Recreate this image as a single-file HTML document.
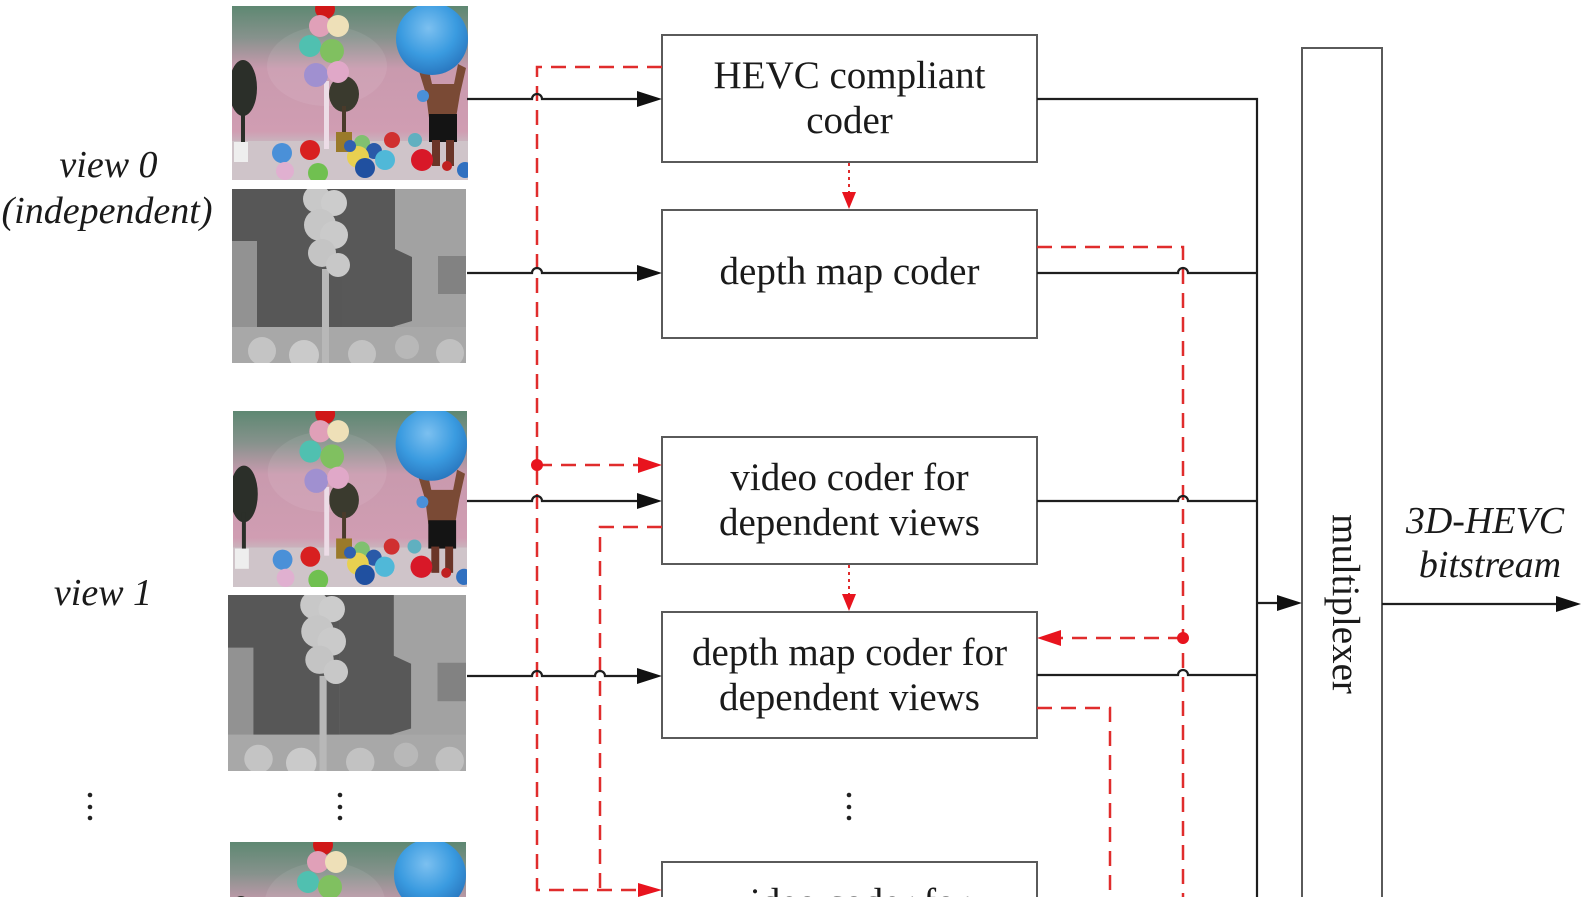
<!DOCTYPE html>
<html><head><meta charset="utf-8"><style>
html,body{margin:0;padding:0;background:#fff;width:1581px;height:897px;overflow:hidden;}
svg{display:block;}
text{font-family:"Liberation Serif","Times New Roman",serif;fill:#1a1a1a;}
</style></head><body>
<svg width="1581" height="897" viewBox="0 0 1581 897" xmlns="http://www.w3.org/2000/svg" overflow="hidden">
<defs>
<linearGradient id="bgg" x1="0" y1="0" x2="0" y2="1">
<stop offset="0" stop-color="#5e8872"/>
<stop offset="0.18" stop-color="#86928c"/>
<stop offset="0.36" stop-color="#c99aae"/>
<stop offset="0.72" stop-color="#d09db2"/>
<stop offset="0.78" stop-color="#c9b4bd"/>
<stop offset="1" stop-color="#d8ced3"/>
</linearGradient>
<radialGradient id="ball" cx="0.45" cy="0.35" r="0.65">
<stop offset="0" stop-color="#7cc0f0"/>
<stop offset="0.6" stop-color="#3a9be0"/>
<stop offset="1" stop-color="#2a78c0"/>
</radialGradient>
<symbol id="ph" viewBox="0 0 236 174" preserveAspectRatio="none">
<rect width="236" height="174" fill="url(#bgg)"/>
<rect x="0" y="135" width="236" height="39" fill="#cfc4c9"/>
<ellipse cx="95" cy="60" rx="60" ry="40" fill="#fff" opacity="0.08"/>
<ellipse cx="11" cy="82" rx="14" ry="28" fill="#2b2f29"/>
<rect x="9" y="100" width="4" height="38" fill="#2b2f29"/>
<rect x="2" y="136" width="14" height="20" fill="#eeeeee"/>
<ellipse cx="112" cy="88" rx="15" ry="18" fill="#3a3a2e"/>
<rect x="110" y="100" width="4" height="30" fill="#4a3a2a"/>
<rect x="104" y="126" width="16" height="20" fill="#9a7a2a"/>
<rect x="92" y="75" width="5" height="68" fill="#ecdce6"/>
<circle cx="93" cy="3" r="10" fill="#d01818"/>
<circle cx="88" cy="20" r="11" fill="#e0a0b8"/>
<circle cx="106" cy="20" r="11" fill="#eee0b8"/>
<circle cx="78" cy="40" r="11" fill="#50c0b0"/>
<circle cx="100" cy="45" r="12" fill="#80c060"/>
<circle cx="84" cy="69" r="12" fill="#a090d0"/>
<circle cx="106" cy="66" r="11" fill="#e0a8c8"/>
<path d="M186 62 L196 60 L200 78 L222 78 L226 58 L234 62 L228 88 L224 112 L197 112 L194 88 Z" fill="#7a4a35"/>
<rect x="197" y="108" width="28" height="28" fill="#141414"/>
<rect x="200" y="134" width="8" height="26" fill="#6a3528"/>
<rect x="214" y="134" width="8" height="26" fill="#6a3528"/>
<circle cx="215" cy="160" r="5" fill="#c02020"/>
<circle cx="191" cy="90" r="6" fill="#4a90d8"/>
<circle cx="200" cy="33" r="36" fill="url(#ball)"/>
<circle cx="78" cy="144" r="10" fill="#d82020"/>
<circle cx="50" cy="147" r="10" fill="#4a90d8"/>
<circle cx="53" cy="165" r="9" fill="#e0b0d0"/>
<circle cx="86" cy="167" r="10" fill="#70c050"/>
<circle cx="130" cy="137" r="8" fill="#80c070"/>
<circle cx="142" cy="145" r="8" fill="#2a5aa8"/>
<circle cx="126" cy="151" r="11" fill="#e8d050"/>
<circle cx="133" cy="162" r="10" fill="#2050a0"/>
<circle cx="153" cy="154" r="10" fill="#50b8d8"/>
<circle cx="160" cy="134" r="8" fill="#d03030"/>
<circle cx="183" cy="134" r="7" fill="#60b0c0"/>
<circle cx="190" cy="154" r="11" fill="#d81828"/>
<circle cx="233" cy="164" r="8" fill="#3070c0"/>
<circle cx="118" cy="140" r="6" fill="#3060b0"/>
</symbol>
<symbol id="ph3" viewBox="0 0 236 55" preserveAspectRatio="none">
<use href="#ph" x="0" y="0" width="236" height="174"/>
</symbol>
<symbol id="dp" viewBox="0 0 234 174" preserveAspectRatio="none">
<rect width="234" height="174" fill="#929292"/>
<rect x="163" y="0" width="71" height="140" fill="#a2a2a2"/>
<rect x="206" y="67" width="28" height="38" fill="#828282"/>
<path d="M0 0 H110 V140 H25 V52 H0 Z" fill="#575757"/>
<path d="M110 0 H163 V60 L180 68 V132 L160 138 H110 Z" fill="#585858"/>
<rect x="0" y="138" width="234" height="36" fill="#a8a8a8"/>
<circle cx="30" cy="162" r="14" fill="#c4c4c4"/>
<circle cx="72" cy="166" r="15" fill="#cacaca"/>
<circle cx="130" cy="165" r="14" fill="#c2c2c2"/>
<circle cx="175" cy="158" r="12" fill="#b8b8b8"/>
<circle cx="218" cy="164" r="14" fill="#c0c0c0"/>
<rect x="90" y="80" width="7" height="94" fill="#b8b8b8"/>
<circle cx="85" cy="10" r="14" fill="#c8c8c8"/>
<circle cx="102" cy="14" r="13" fill="#cccccc"/>
<circle cx="88" cy="36" r="16" fill="#c6c6c6"/>
<circle cx="102" cy="46" r="14" fill="#cacaca"/>
<circle cx="90" cy="64" r="14" fill="#c4c4c4"/>
<circle cx="106" cy="76" r="12" fill="#c8c8c8"/>
</symbol>
</defs>
<rect width="1581" height="897" fill="#fff"/>

<use href="#ph" x="232" y="6" width="236" height="174"/>
<use href="#dp" x="232" y="189" width="234" height="174"/>
<use href="#ph" x="233" y="411" width="234" height="176"/>
<use href="#dp" x="228" y="595" width="238" height="176"/>
<use href="#ph3" x="230" y="842" width="236" height="55"/>

<g fill="#fff" stroke="#5a5a5a" stroke-width="2">
<rect x="662" y="35" width="375" height="127"/>
<rect x="662" y="210" width="375" height="128"/>
<rect x="662" y="437" width="375" height="127"/>
<rect x="662" y="612" width="375" height="126"/>
<path d="M662 897 V862 H1037 V897"/>
<path d="M1302 897 V48 H1382 V897"/>
</g>

<g fill="none" stroke="#e02c2c" stroke-width="2.5" stroke-dasharray="15 9">
<path d="M662 67 H537 V890 H640"/>
<path d="M537 465 H640"/>
<path d="M662 527 H600 V890"/>
<path d="M1037 247 H1183 V897"/>
<path d="M1183 638 H1060"/>
<path d="M1037 708 H1110 V897"/>
</g>
<g fill="none" stroke="#e02c2c" stroke-width="2" stroke-dasharray="3 4">
<path d="M849 163 V193"/>
<path d="M849 565 V595"/>
</g>
<g fill="#e8141e">
<polygon points="638,883 662,890 638,897"/>
<polygon points="638,457 662,465 638,473"/>
<polygon points="1061,630 1037,638 1061,646"/>
<polygon points="842,192 856,192 849,209"/>
<polygon points="842,594 856,594 849,611"/>
<circle cx="537" cy="465" r="6"/>
<circle cx="1183" cy="638" r="6"/>
</g>

<g fill="none" stroke="#1e1e1e" stroke-width="2.2">
<path d="M467 99 H532 A5 5 0 0 1 542 99 H640"/>
<path d="M467 273 H532 A5 5 0 0 1 542 273 H640"/>
<path d="M467 501 H532 A5 5 0 0 1 542 501 H640"/>
<path d="M467 676 H532 A5 5 0 0 1 542 676 H595 A5 5 0 0 1 605 676 H640"/>
<path d="M1037 99 H1257 V897"/>
<path d="M1037 273 H1178 A5 5 0 0 1 1188 273 H1257"/>
<path d="M1037 501 H1178 A5 5 0 0 1 1188 501 H1257"/>
<path d="M1037 675 H1178 A5 5 0 0 1 1188 675 H1257"/>
<path d="M1257 603 H1280"/>
<path d="M1382 604 H1560"/>
</g>
<g fill="#111">
<polygon points="637,91 662,99 637,107"/>
<polygon points="637,265 662,273 637,281"/>
<polygon points="637,493 662,501 637,509"/>
<polygon points="637,668 662,676 637,684"/>
<polygon points="1277,595 1302,603 1277,611"/>
<polygon points="1556,596 1581,604 1556,612"/>
</g>

<g font-size="39" text-anchor="middle">
<text x="849.5" y="88">HEVC compliant</text>
<text x="849.5" y="133">coder</text>
<text x="849.5" y="284">depth map coder</text>
<text x="849.5" y="490">video coder for</text>
<text x="849.5" y="535">dependent views</text>
<text x="849.5" y="665">depth map coder for</text>
<text x="849.5" y="710">dependent views</text>
<text x="849.5" y="915">video coder for</text>
<text transform="translate(1333,604) rotate(90)">multiplexer</text>
</g>

<g font-size="38" font-style="italic" text-anchor="middle">
<text x="108.5" y="177">view 0</text>
<text x="107" y="223">(independent)</text>
<text x="103" y="605">view 1</text>
<text x="1485" y="533">3D-HEVC</text>
<text x="1490" y="577">bitstream</text>
</g>

<g fill="#222">
<circle cx="90" cy="795" r="2.3"/><circle cx="90" cy="807" r="2.3"/><circle cx="90" cy="818" r="2.3"/>
<circle cx="340" cy="795" r="2.3"/><circle cx="340" cy="807" r="2.3"/><circle cx="340" cy="818" r="2.3"/>
<circle cx="849" cy="795" r="2.3"/><circle cx="849" cy="807" r="2.3"/><circle cx="849" cy="818" r="2.3"/>
</g>
</svg>
</body></html>
